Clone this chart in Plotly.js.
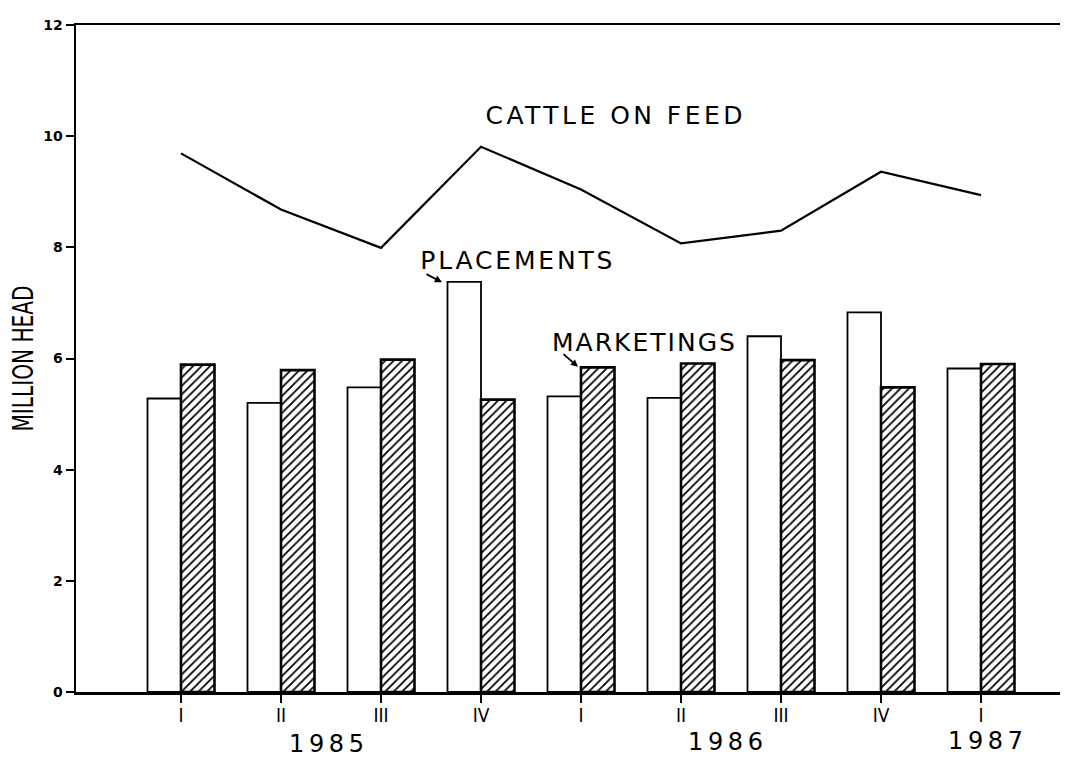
<!DOCTYPE html>
<html>
<head>
<meta charset="utf-8">
<script src="https://cdn.plot.ly/plotly-3.0.1.min.js"></script>
<style>html,body{margin:0;padding:0;background:#fff;}#chart{width:1069px;height:758px;}</style>
</head>
<body>
<div id="chart"></div>
<script>
// Data (million head)
const quarters = ['I', 'II', 'III', 'IV', 'I', 'II', 'III', 'IV', 'I'];
const years = ['1985', '1986', '1987'];
const placements = [5.28, 5.20, 5.48, 7.38, 5.32, 5.29, 6.40, 6.83, 5.82];
const marketings = [5.89, 5.79, 5.98, 5.26, 5.84, 5.91, 5.97, 5.48, 5.90];
const cattleOnFeed = [9.69, 8.68, 7.99, 9.81, 9.04, 8.07, 8.30, 9.36, 8.94];
const yTicks = [0, 2, 4, 6, 8, 10, 12];

const xIdx = quarters.map((q, i) => i);
const cond = '"DejaVu Sans Condensed", "DejaVu Sans", sans-serif';
const sans = '"DejaVu Sans", sans-serif';

const traces = [
  {
    type: 'bar', name: 'PLACEMENTS', x: xIdx, y: placements,
    marker: {color: '#ffffff', line: {color: '#000', width: 1.8}},
    hoverinfo: 'y'
  },
  {
    type: 'bar', name: 'MARKETINGS', x: xIdx, y: marketings,
    marker: {
      color: '#ffffff',
      line: {color: '#000', width: 2.6},
      pattern: {shape: '/', fgcolor: '#000', bgcolor: '#fff', size: 6, solidity: 0.3}
    },
    hoverinfo: 'y'
  },
  {
    type: 'scatter', mode: 'lines', name: 'CATTLE ON FEED', x: xIdx, y: cattleOnFeed,
    line: {color: '#000', width: 2.2}, hoverinfo: 'y'
  }
];

const labelFont = {family: sans, size: 25, color: '#000'};
const yearFont = {family: sans, size: 24, color: '#000'};

const layout = {
  width: 1069, height: 758,
  paper_bgcolor: '#fff', plot_bgcolor: '#fff',
  showlegend: false,
  barmode: 'group', bargap: 0.33, bargroupgap: 0,
  margin: {l: 76, r: 9, t: 25, b: 66},
  xaxis: {
    range: [-1.05, 8.79],
    tickmode: 'array', tickvals: xIdx, ticktext: quarters,
    showline: true, mirror: true, linecolor: '#000', linewidth: 2.5,
    ticks: 'outside', ticklen: 8, tickwidth: 2, tickcolor: '#000',
    ticklabelstandoff: -3,
    showgrid: false, zeroline: false,
    tickfont: {family: cond, size: 19, color: '#000'}
  },
  yaxis: {
    range: [0, 12],
    tickmode: 'array', tickvals: yTicks, ticktext: yTicks.map(String),
    showline: true, linecolor: '#000', linewidth: 2.5,
    ticks: 'outside', ticklen: 8, tickwidth: 2, tickcolor: '#000',
    showgrid: false, zeroline: false,
    tickfont: {family: sans, size: 14, color: '#000', weight: 'bold'},
    title: {text: 'MILLION HEAD', font: {family: cond, size: 28, color: '#000'}, standoff: 2}
  },
  annotations: [
    {xref: 'x', yref: 'y', x: 4.33, y: 10.38, text: 'CATTLE ON FEED', showarrow: false, font: labelFont},
    {xref: 'x', yref: 'y', x: 3.35, y: 7.76, text: 'PLACEMENTS', showarrow: false, font: labelFont},
    {xref: 'x', yref: 'y', x: 2.61, y: 7.37, text: '', showarrow: true, arrowhead: 2, arrowsize: 0.8,
     arrowwidth: 1.8, arrowcolor: '#000', ax: -17, ay: -9, standoff: 0},
    {xref: 'x', yref: 'y', x: 4.62, y: 6.28, text: 'MARKETINGS', showarrow: false, font: labelFont},
    {xref: 'x', yref: 'y', x: 3.97, y: 5.85, text: '', showarrow: true, arrowhead: 2, arrowsize: 0.8,
     arrowwidth: 1.8, arrowcolor: '#000', ax: -16, ay: -14, standoff: 0},
    {xref: 'x', yref: 'paper', x: 1.45, y: -0.078, yanchor: 'middle', text: years[0], showarrow: false, font: yearFont},
    {xref: 'x', yref: 'paper', x: 5.44, y: -0.075, yanchor: 'middle', text: years[1], showarrow: false, font: yearFont},
    {xref: 'x', yref: 'paper', x: 8.04, y: -0.074, yanchor: 'middle', text: years[2], showarrow: false, font: yearFont}
  ]
};

// Target rendered widths (px) of the wide lettering in the reference
const textWidths = {'CATTLE ON FEED': 257, 'PLACEMENTS': 192, 'MARKETINGS': 183,
                    '1985': 75, '1986': 75, '1987': 75};

Plotly.newPlot('chart', traces, layout, {displayModeBar: false, staticPlot: true}).then(function (gd) {
  gd.querySelectorAll('text.annotation-text').forEach(function (t) {
    const w = textWidths[t.textContent];
    if (w) { t.setAttribute('textLength', w); t.setAttribute('lengthAdjust', 'spacing'); }
  });
  const yt = gd.querySelector('text.ytitle');
  if (yt) { yt.setAttribute('textLength', 146); yt.setAttribute('lengthAdjust', 'spacingAndGlyphs'); }
});
</script>
</body>
</html>
